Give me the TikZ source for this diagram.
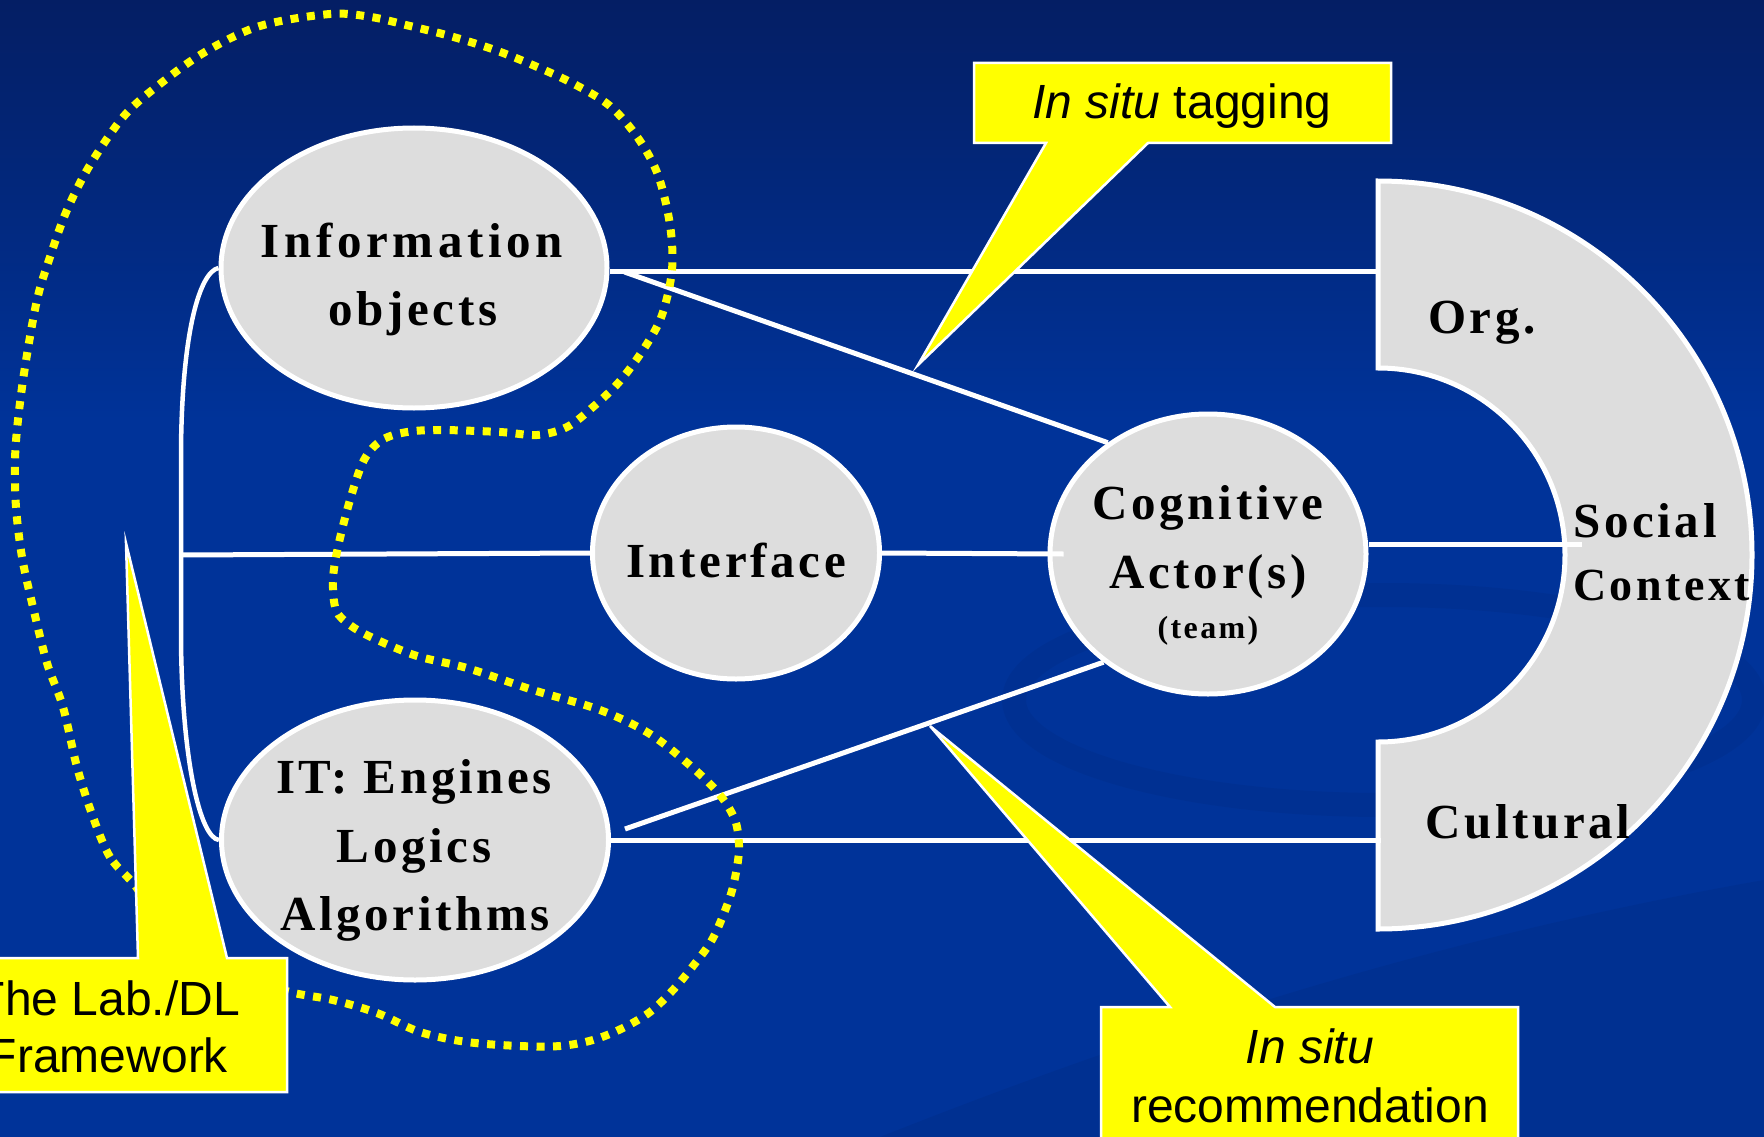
\documentclass[tikz,border=0pt]{standalone}
\usepackage{fontspec}
\setmainfont{Liberation Serif}
\newfontfamily\lblfont[LetterSpace=7.5]{Liberation Serif}
\newfontfamily\lblwide[LetterSpace=9.5]{Liberation Serif}
\newfontfamily\callfont{Liberation Sans}
\usetikzlibrary{shapes.geometric,calc}

\definecolor{slideblue}{RGB}{0,51,153}
\definecolor{slidetop}{RGB}{4,30,100}
\definecolor{bubble}{RGB}{221,221,221}
\definecolor{callyellow}{RGB}{255,255,0}

\tikzset{
  oval/.style={ellipse, draw=white, line width=5pt, fill=bubble, inner sep=0pt},
  lbl/.style={anchor=base, inner sep=0pt, font=\lblfont\bfseries\fontsize{49}{60}\selectfont},
  lblw/.style={anchor=base, inner sep=0pt, font=\lblwide\bfseries\fontsize{49}{60}\selectfont},
  link/.style={draw=white, line width=5pt},
  bracket/.style={draw=white, line width=4.5pt},
  ringshape/.style={draw=white, line width=5pt, fill=bubble},
  fence/.style={draw=callyellow, line width=8pt, dash pattern=on 8pt off 8.5pt},
  callout/.style={fill=callyellow, draw=white, line width=2.5pt, line join=miter},
  calltext/.style={anchor=base, inner sep=0pt, text=black, font=\callfont\fontsize{48}{58}\selectfont}
}

\begin{document}
\begin{tikzpicture}[x=1pt, y=-1pt]
\useasboundingbox (0,0) rectangle (1764,1137);
\clip (0,0) rectangle (1764,1137);

% slide background
\fill[slideblue] (0,0) rectangle (1764,1137);
\shade[top color=slidetop, bottom color=slideblue] (0,0) rectangle (1764,420);
% faint swoosh of the slide template
\draw[black, opacity=0.045, line width=24pt] (1384,700) ellipse [x radius=370, y radius=105];
\fill[black, opacity=0.05] (880,1137) .. controls (1200,1010) and (1480,930) .. (1764,880) -- (1764,1137) -- cycle;

% social context: half ring
\path[ringshape] (1378,181) arc[start angle=-90, end angle=90, radius=374]
  -- (1378,742) arc[start angle=90, end angle=-90, radius=187] -- cycle;
\coordinate (orgport) at (1378,271);
\coordinate (culport) at (1381,840);
\coordinate (socport) at (1582,544);

% the four bubbles
\node[oval, minimum width=386pt, minimum height=280pt] (info) at (414,268) {};
\node[oval, minimum width=287pt, minimum height=252pt] (iface) at (736,553) {};
\node[oval, minimum width=316pt, minimum height=280pt] (cog) at (1208,554) {};
\node[oval, minimum width=387pt, minimum height=280pt] (it) at (415,840) {};

% bubble labels
\node[lblw] (infoA) at (412,257) {Information};
\node[lbl] (infoB) at (413,325) {objects};
\node[lbl] (ifaceA) at (736,577) {Interface};
\node[lbl] (cogA) at (1208,519) {Cognitive};
\node[lbl] (cogB) at (1208,588) {Actor(s)};
\node[lbl, font=\lblfont\bfseries\fontsize{32}{40}\selectfont] (cogC) at (1208,638) {(team)};
\node[lbl] (itA) at (414,793) {IT: Engines};
\node[lbl] (itB) at (414,862) {Logics};
\node[lbl] (itC) at (415,930) {Algorithms};

% ring labels
\node[lbl] (orgtxt) at (1482,333) {Org.};
\node[lbl, anchor=base west] (soctxt) at (1573,537) {Social};
\node[lbl, anchor=base west, font=\lblfont\bfseries\fontsize{46}{56}\selectfont] (ctxtxt) at (1573,600) {Context};
\node[lbl, anchor=base west] (cultxt) at (1425,838) {Cultural};

% connectors
\draw[link] (info.east |- orgport) -- (orgport);
\draw[link] ($(info.east)+(15,4)$) -- (cog.132);
\draw[link] (iface.east) -- ([xshift=16pt]cog.west);
\draw[link] (cog.east |- socport) -- (socport);
\draw[link] ($(it.east)+(14,-11)$) -- (cog.226);
\draw[link] (it.east |- culport) -- (culport);
\draw[bracket] (info.west) .. controls (200,272) and (182,330) .. (181,450)
  -- (181,640) .. controls (182,760) and (200,838) .. (it.west);
\coordinate (fork) at (181,555);
\draw[link] (fork) -- (iface.west);

% dotted boundary of the lab framework
\draw[fence] plot[smooth cycle, tension=0.55] coordinates {
  (133,883) (110,857) (93,817) (77,767) (63,707) (47,663) (33,607) (22,557)
  (16,507) (15,460) (18,420) (25,367) (37,300) (50,257) (67,210) (90,165)
  (124,116) (160,84) (205,52) (260,26) (330,14) (371,17) (410,26) (450,36)
  (495,50) (535,66) (574,84) (610,106) (638,138) (658,175) (670,225) (672,270)
  (662,315) (645,347) (620,381) (593,407) (567,427) (537,435) (500,432) (440,430)
  (407,432) (382,440) (364,460) (350,500) (338,547) (333,580) (336,610) (350,625)
  (373,638) (417,656) (467,668) (533,690) (600,710) (650,734) (693,768) (720,795)
  (735,820) (739,845) (737,867) (730,897) (713,938) (693,966) (673,990) (650,1012)
  (623,1028) (593,1040) (560,1046) (520,1046) (467,1042) (420,1032) (377,1013)
  (333,1000) (290,992) (240,975) (185,935) (150,905)};

% callouts
\path[callout] (-80,958) -- (138,958) -- (126,543) -- (227,958) -- (287,958)
  -- (287,1092) -- (-80,1092) -- cycle;
\node[calltext] (labA) at (108,1015) {The Lab./DL};
\node[calltext] (labB) at (108,1072) {Framework};

\path[callout] (974,63) -- (1391,63) -- (1391,143) -- (1148,143) -- (918,365)
  -- (1046,143) -- (974,143) -- cycle;
\node[calltext] (tagtxt) at (1182,119) {\itshape In situ\upshape{} tagging};

\path[callout] (1101,1007) -- (1170,1007) -- (930,726) -- (1275,1007) -- (1518,1007)
  -- (1518,1160) -- (1101,1160) -- cycle;
\node[calltext] (recA) at (1310,1063) {\itshape In situ};
\node[calltext] (recB) at (1310,1122) {recommendation};
\end{tikzpicture}
\end{document}
